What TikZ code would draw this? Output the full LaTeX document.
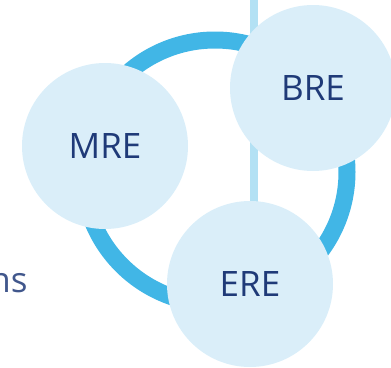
\documentclass[tikz,border=0pt]{standalone}
\usepackage{fontspec}
\setmainfont{Open Sans}
\usepackage{tikz}
\usetikzlibrary{positioning}
\definecolor{ringblue}{HTML}{41B6E6}
\definecolor{axisblue}{HTML}{B3E1F4}
\definecolor{rolefill}{HTML}{DAEEF9}
\definecolor{roletext}{HTML}{1F3A78}
\tikzset{%
  every role/.style={
    circle,
    fill=rolefill,
    text=roletext,
    inner sep=0pt,
    minimum size=166pt,
    font=\fontsize{35}{35}\selectfont
  },
  role ring/.style={
    draw=ringblue,
    line width=17pt
  },
  role axis/.style={
    draw=axisblue,
    line width=8pt
  },
}

\begin{document}
\begin{tikzpicture}[x=1pt, y=-1pt]

\useasboundingbox (0,0) rectangle (391,367);
\clip (0,0) rectangle (391,367);

\coordinate (hub) at (215,172);
\coordinate (axis-top) at (254,0);
\coordinate (axis-end) at (254,284);

\draw [role ring] (hub) circle [radius=132pt];
\draw [role axis] (axis-top) -- (axis-end);

\foreach \r/\px/\py in {MRE/105/146, BRE/313/88, ERE/250/284}
  \node [every role] (role-\r) at (\px,\py) {\r};

\node [text=roletext!85, anchor=base east, font=\fontsize{35}{35}\selectfont]
  (side-label) at (31,292) {ns};

\end{tikzpicture}
\end{document}
